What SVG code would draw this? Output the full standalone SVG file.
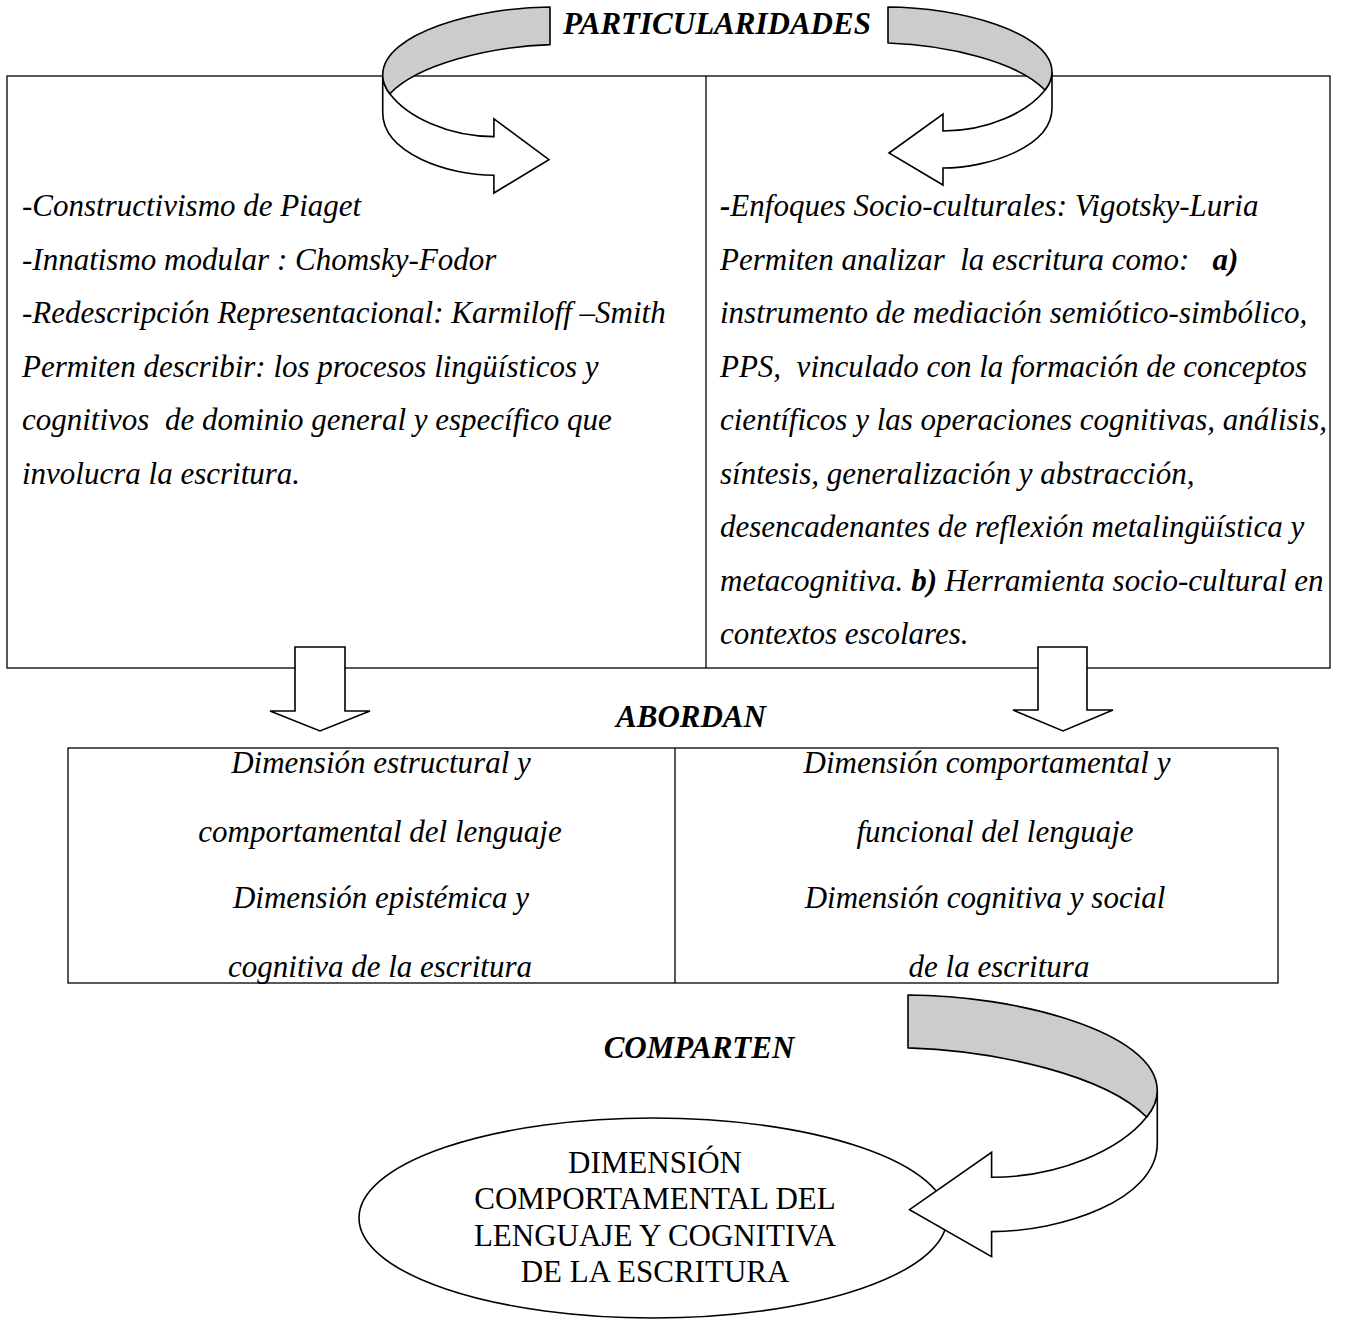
<svg xmlns="http://www.w3.org/2000/svg" width="1346" height="1321" viewBox="0 0 1346 1321">
<defs>
<style>
.frame{fill:none;stroke:#000;stroke-width:1.3}
.t{font-family:"Liberation Serif","Times New Roman",serif;font-size:31px;font-style:italic;fill:#000;white-space:pre}
.b{font-weight:bold}
.lbl{font-family:"Liberation Serif","Times New Roman",serif;font-size:31px;font-style:italic;font-weight:bold;fill:#000;text-anchor:middle}
.cap{font-family:"Liberation Serif","Times New Roman",serif;font-size:31px;fill:#000;text-anchor:middle}
.mid{text-anchor:middle}
.gray{fill:#cccccc;stroke:#000;stroke-width:1.6;stroke-linejoin:round;vector-effect:non-scaling-stroke}
.white{fill:#fff;stroke:#000;stroke-width:1.6;stroke-linejoin:miter;vector-effect:non-scaling-stroke}
</style>
<g id="uturn">
<path class="white" d="M164,65 L164,101 C164,140 100,161 55,161 L55,178 L1,146 L55,107 L55,124 C100,124 140,105 157,83 C161,78 164,72 164,65 Z"/>
<path class="gray" d="M0,0 C70,0 164,25 164,65 C164,72 161,78 157,83 C130,55 60,38 0,36 Z"/>
</g>
</defs>
<rect width="1346" height="1321" fill="#fff"/>

<g id="top-table">
<rect class="frame" x="7" y="76" width="1323" height="592"/>
<line class="frame" x1="706" y1="76" x2="706" y2="668"/>
</g>

<g id="node-left-theories">
<text class="t" x="22" y="216">-Constructivismo de Piaget</text>
<text class="t" x="22" y="269.5">-Innatismo modular : Chomsky-Fodor</text>
<text class="t" x="22" y="323">-Redescripción Representacional: Karmiloff –Smith</text>
<text class="t" x="22" y="376.5">Permiten describir: los procesos lingüísticos y</text>
<text class="t" x="22" y="430">cognitivos  de dominio general y específico que</text>
<text class="t" x="22" y="483.5">involucra la escritura.</text>
</g>

<g id="node-right-theories">
<text class="t" x="720" y="216"><tspan class="b">-</tspan>Enfoques Socio-culturales: Vigotsky-Luria</text>
<text class="t" x="720" y="269.5">Permiten analizar  la escritura como:   <tspan class="b">a)</tspan></text>
<text class="t" x="720" y="323">instrumento de mediación semiótico-simbólico,</text>
<text class="t" x="720" y="376.5">PPS,  vinculado con la formación de conceptos</text>
<text class="t" x="720" y="430">científicos y las operaciones cognitivas, análisis,</text>
<text class="t" x="720" y="483.5">síntesis, generalización y abstracción,</text>
<text class="t" x="720" y="537">desencadenantes de reflexión metalingüística y</text>
<text class="t" x="720" y="590.5">metacognitiva. <tspan class="b">b)</tspan> Herramienta socio-cultural en</text>
<text class="t" x="720" y="644">contextos escolares.</text>
</g>

<g id="bottom-table">
<rect class="frame" x="68" y="748" width="1210" height="235"/>
<line class="frame" x1="675" y1="748" x2="675" y2="983"/>
</g>

<g id="node-left-dimensions">
<text class="t mid" x="381" y="773">Dimensión estructural y</text>
<text class="t mid" x="380" y="842">comportamental del lenguaje</text>
<text class="t mid" x="381" y="908">Dimensión epistémica y</text>
<text class="t mid" x="380" y="977">cognitiva de la escritura</text>
</g>

<g id="node-right-dimensions">
<text class="t mid" x="987" y="773">Dimensión comportamental y</text>
<text class="t mid" x="995" y="842">funcional del lenguaje</text>
<text class="t mid" x="985" y="908">Dimensión cognitiva y social</text>
<text class="t mid" x="999" y="977">de la escritura</text>
</g>

<g id="node-shared">
<ellipse cx="653" cy="1218" rx="294" ry="100" fill="#fff" stroke="#000" stroke-width="1.6"/>
<text class="cap" x="655" y="1173">DIMENSIÓN</text>
<text class="cap" x="655" y="1209">COMPORTAMENTAL DEL</text>
<text class="cap" x="655" y="1246">LENGUAJE Y COGNITIVA</text>
<text class="cap" x="655" y="1282">DE LA ESCRITURA</text>
</g>

<g id="connectors">
<use href="#uturn" transform="translate(550,7) scale(-1.02,1.045)"/>
<use href="#uturn" transform="translate(888,7)"/>
<path class="white" d="M295,647 L345,647 L345,711 L370,711 L320,731 L270,711 L295,711 Z"/>
<path class="white" d="M1038,647 L1087,647 L1087,710 L1113,710 L1063,731 L1013,710 L1038,710 Z"/>
<use href="#uturn" transform="translate(908,995) scale(1.52,1.47)"/>
</g>

<g id="labels">
<text class="lbl" x="717" y="34">PARTICULARIDADES</text>
<text class="lbl" x="691" y="727">ABORDAN</text>
<text class="lbl" x="699" y="1058">COMPARTEN</text>
</g>
</svg>
